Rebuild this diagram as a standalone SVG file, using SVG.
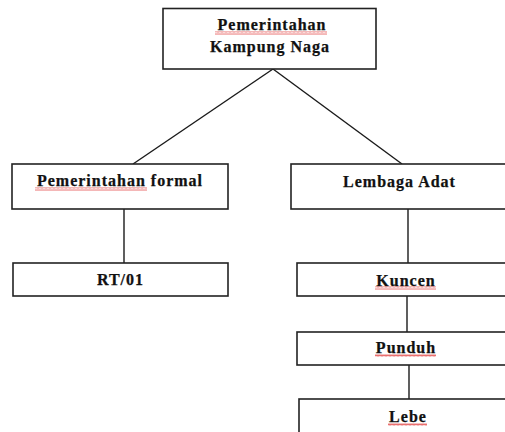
<svg xmlns="http://www.w3.org/2000/svg" width="505" height="432" viewBox="0 0 505 432">
<defs>
<style>
.box{fill:#fff;stroke:#222;stroke-width:1.6}
.lbl{font-family:"Liberation Serif","Times New Roman",serif;font-weight:bold;font-size:16px;letter-spacing:1px;fill:#111;text-anchor:middle;stroke:#111;stroke-width:0.25}
.con{stroke:#1a1a1a;stroke-width:1.4;fill:none}
.sq{fill:url(#squig)}
</style>
<pattern id="squig" width="4" height="3" patternUnits="userSpaceOnUse">
<path d="M0,2.5 L1,0.5 L2,2.5 L3,0.5 L4,2.5" fill="none" stroke="#e03030" stroke-width="0.7"/>
</pattern>
</defs>
<rect width="505" height="432" fill="#fff"/>
<g id="connectors">
<line class="con" x1="273" y1="69" x2="133" y2="164"/>
<line class="con" x1="273" y1="69" x2="402" y2="164"/>
<line class="con" x1="124" y1="209" x2="124" y2="263"/>
<line class="con" x1="408" y1="209" x2="408" y2="263"/>
<line class="con" x1="407" y1="296" x2="407" y2="332"/>
<line class="con" x1="409" y1="365" x2="409" y2="399"/>
</g>
<g id="node-top">
<rect class="box" x="163" y="8.5" width="213" height="60.5"/>
<text class="lbl" x="272" y="30">Pemerintahan</text>
<text class="lbl" x="270" y="52">Kampung Naga</text>
<rect class="sq" x="215" y="31.5" width="112" height="3"/>
</g>
<g id="node-formal">
<rect class="box" x="12" y="164" width="216" height="45"/>
<text class="lbl" x="120" y="186">Pemerintahan formal</text>
<rect class="sq" x="35" y="187.5" width="112" height="3"/>
</g>
<g id="node-rt">
<rect class="box" x="13" y="263" width="215" height="33"/>
<text class="lbl" x="120.5" y="285">RT/01</text>
</g>
<g id="node-adat">
<rect class="box" x="291" y="164" width="220" height="45"/>
<text class="lbl" x="399.5" y="186.5">Lembaga Adat</text>
</g>
<g id="node-kuncen">
<rect class="box" x="297" y="263" width="214" height="33"/>
<text class="lbl" x="406" y="285.5">Kuncen</text>
<rect class="sq" x="375" y="286.5" width="61" height="3"/>
</g>
<g id="node-punduh">
<rect class="box" x="297" y="332" width="214" height="33"/>
<text class="lbl" x="406" y="352.5">Punduh</text>
<rect class="sq" x="375" y="354" width="61" height="3"/>
</g>
<g id="node-lebe">
<rect class="box" x="299" y="399" width="212" height="40"/>
<text class="lbl" x="408" y="421.5">Lebe</text>
<rect class="sq" x="388" y="423" width="39" height="3"/>
</g>
</svg>
